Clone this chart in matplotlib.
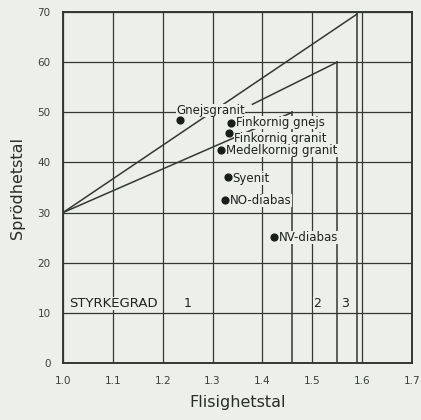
import matplotlib
matplotlib.use("Agg")
import matplotlib.pyplot as plt

# --- data ---
rocks = ["Gnejsgranit", "Finkornig gnejs", "Finkornig granit", "Medelkornig granit",
         "Syenit", "NO-diabas", "NV-diabas"]
flisighet = [1.235, 1.337, 1.333, 1.317, 1.330, 1.325, 1.424]
sprodhet = [48.4, 47.8, 45.9, 42.5, 37.0, 32.6, 25.2]

# boundary lines (Flisighetstal, Sprödhetstal)
upper_x = [1.0, 1.59]
upper_y = [30.0, 69.6]
middle_x = [1.38, 1.55]
middle_y = [51.6, 60.0]
lower_x = [1.0, 1.46]
lower_y = [30.0, 50.0]
# vertical limits for strength classes
vert_x = [1.46, 1.55, 1.59]
vert_top = [50.0, 60.0, 70.0]

xticks = [1.0, 1.1, 1.2, 1.3, 1.4, 1.5, 1.6, 1.7]
xticklabels = ["1.0", "1.1", "1.2", "1.3", "1.4", "1.5", "1.6", "1.7"]
yticks = [0, 10, 20, 30, 40, 50, 60, 70]

class_labels = ["1", "2", "3"]
class_x = [1.25, 1.509, 1.565]
class_y = [11.9, 11.9, 11.9]

BG = "#edf0e9"
INK = "#333833"
TXT = "#1f231f"

plt.rcParams['font.family'] = ['DejaVu Sans']
fig = plt.figure(figsize=(4.21, 4.20), dpi=100, facecolor=BG)
ax = fig.add_axes([0.1496, 0.1357, 0.829, 0.8357], facecolor=BG)

ax.set_xlim(1.0, 1.7)
ax.set_ylim(0, 70)
ax.set_xticks(xticks)
ax.set_xticklabels(xticklabels)
ax.set_yticks(yticks)
ax.tick_params(length=0, labelsize=7.5, colors="#3a3f3a", pad=9)
ax.grid(True, color=INK, lw=0.9, zorder=1)
for s in ax.spines.values():
    s.set_color(INK)
    s.set_linewidth(1.4)

ax.plot(upper_x, upper_y, color=INK, lw=1.1, zorder=2)
ax.plot(middle_x, middle_y, color=INK, lw=1.1, zorder=2)
ax.plot(lower_x, lower_y, color=INK, lw=1.1, zorder=2)
for vx, vt in zip(vert_x, vert_top):
    ax.plot([vx, vx], [0, vt], color=INK, lw=1.1, zorder=2)

ax.scatter(flisighet, sprodhet, s=24, color="#1a1e1a", zorder=4)

label_offsets = [(-3, 7), (3.5, 0.5), (3.5, -4.0), (3.5, -0.5),
                 (3.5, -0.5), (3.5, -0.5), (3.5, -0.5)]
bbox = dict(facecolor=BG, edgecolor="none", pad=0.2)
for name, fx, sy, off in zip(rocks, flisighet, sprodhet, label_offsets):
    ax.annotate(name, (fx, sy), xytext=off, textcoords="offset points",
                ha="left", va="center", fontsize=8.5, color=TXT,
                bbox=bbox, zorder=3)

ax.text(1.012, 11.9, "STYRKEGRAD", fontsize=9.5, ha="left", va="center",
        color=TXT, bbox=bbox, zorder=3)
for lab, cx, cy in zip(class_labels, class_x, class_y):
    ax.text(cx, cy, lab, fontsize=9, ha="center", va="center",
            color=TXT, bbox=bbox, zorder=3)

ax.set_xlabel("Flisighetstal", fontsize=11.5, color="#2a2e2a", labelpad=7)
ax.set_ylabel("Sprödhetstal", fontsize=11.5, color="#2a2e2a", labelpad=9)

fig.savefig("out.png", dpi=100, facecolor=BG)
